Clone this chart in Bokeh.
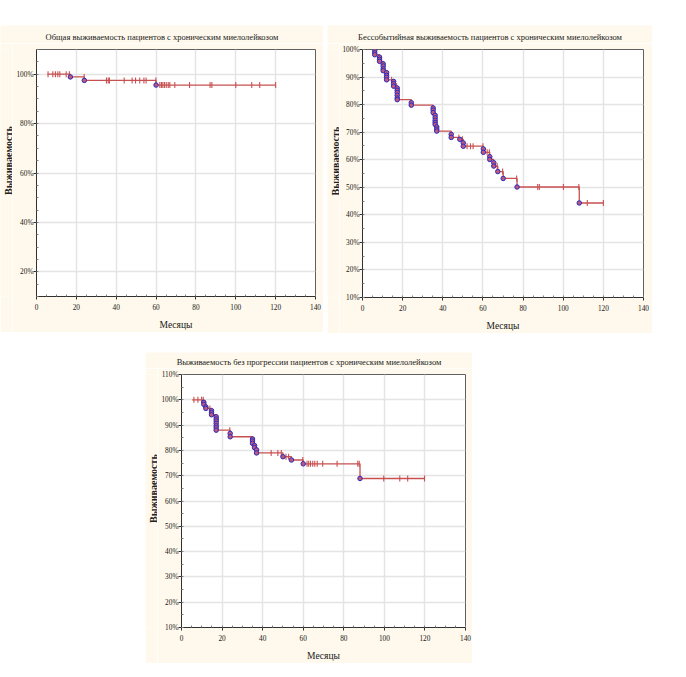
import numpy as np
from bokeh.plotting import figure
from bokeh.layouts import column, row
from bokeh.models import Range1d, FixedTicker, PrintfTickFormatter, Spacer
from bokeh.core.properties import value
from bokeh.embed import file_html
from bokeh.resources import INLINE

# ---------------- data ----------------
# Panel 1: overall survival
os_title = "Общая выживаемость пациентов с хроническим миелолейкозом"
os_start, os_end = 5.5, 120
os_event_t = [17, 24, 60]
os_event_s = [98.9, 97.5, 95.6]
os_cens_t = [5.8, 8.2, 9.5, 10.7, 11.7, 14.9, 16.5, 23.9, 35.1, 36.0, 36.6, 44, 48, 49.7,
             51.8, 53.9, 55, 59.9, 61.9, 62.7, 63.4, 64.2, 65.1, 66.1, 66.9, 69.4, 76.8,
             87.1, 88, 100, 108, 112, 120]
os_yticks = [20, 40, 60, 80, 100]

# Panel 2: event-free survival
efs_title = "Бессобытийная выживаемость пациентов с хроническим миелолейкозом"
efs_start, efs_end = 5.6, 120
efs_event_t = [6.1, 6.1, 6.1, 8.5, 8.5, 8.5, 10.3, 10.3, 10.3, 10.3, 12, 12, 12, 12,
               15.5, 15.5, 15.5, 17.3, 17.3, 17.3, 17.3, 17.3, 17.3, 24.3, 24.3,
               35.2, 35.2, 35.2, 36.2, 36.2, 36.2, 36.2, 36.2, 37, 37, 37, 44.2, 44.2,
               48.5, 50.2, 50.2, 60.2, 60.2, 63.4, 63.4, 65.4, 65.4, 67.4, 70.1, 77, 108]
efs_event_s = [99.6, 98.8, 98.1, 97.2, 96.4, 95.7, 94.8, 94.0, 93.0, 92.3, 91.6, 90.6, 89.9, 89.0,
               88.4, 87.6, 86.7, 86.0, 85.2, 84.4, 83.4, 82.4, 81.8, 80.7, 79.8,
               78.8, 78.0, 77.1, 76.1, 75.2, 74.3, 73.5, 72.8, 71.9, 71.1, 70.4, 69.2, 68.1,
               67.4, 66.1, 64.9, 63.9, 62.7, 61.1, 60.1, 58.9, 57.7, 55.7, 53.2, 50.1, 44.3]
efs_cens_t = [14.5, 17.0, 48.0, 49.8, 52.1, 53.8, 55.1, 60.0, 62.1, 63.2, 67.1, 69.8, 76.8,
              87.3, 88.1, 100.1, 107.8, 112, 120]
efs_yticks = [10, 20, 30, 40, 50, 60, 70, 80, 90, 100]

# Panel 3: progression-free survival
pfs_title = "Выживаемость без прогрессии пациентов с хроническим миелолейкозом"
pfs_start, pfs_end = 5.3, 120
pfs_event_t = [11, 11, 12, 12, 14.8, 14.8, 14.8, 17.1, 17.1, 17.1, 17.1, 17.1, 17.1, 17.1,
               24, 24, 35, 35, 35, 36, 36, 37, 37, 50, 54.2, 60, 88]
pfs_event_s = [99.0, 98.2, 97.2, 96.6, 95.7, 94.9, 94.1, 93.3, 92.4, 91.6, 90.7, 89.7, 88.9, 88.0,
               86.7, 85.4, 84.5, 83.7, 82.8, 81.9, 81.1, 80.2, 79.0, 77.5, 76.2, 74.7, 68.9]
pfs_cens_t = [6.1, 8.1, 9.9, 10.7, 14.0, 23.8, 44.2, 47.5, 49.2, 51.5, 52.8, 59.8,
              61.9, 62.7, 63.6, 64.7, 65.7, 66.9, 69.6, 76.7, 86.9, 87.6,
              99.7, 107.6, 111.5, 119.8]
pfs_yticks = [10, 20, 30, 40, 50, 60, 70, 80, 90, 100, 110]

x_ticks = [0, 20, 40, 60, 80, 100, 120, 140]
x_label = "Месяцы"
y_label = "Выживаемость"

# ---------------- style ----------------
BEIGE = "#FEF9EC"
LINE = "#C85050"
FONT = "Liberation Serif"
TEXT = "#202020"
LSTRIP = 12   # width of the strip that carries the vertical axis title
TOPPAD = 6    # top border of the plotting figure (room for the top tick label)


def step_path(start, end, ev_t, ev_s):
    xs, ys, cur = [start], [100.0], 100.0
    for t, s in zip(ev_t, ev_s):
        xs += [t, t]
        ys += [cur, s]
        cur = s
    xs.append(end)
    ys.append(cur)
    return xs, ys


def cens_levels(cens_t, ev_t, ev_s):
    idx = np.searchsorted(np.array(ev_t, dtype=float), np.array(cens_t, dtype=float), side="left")
    lv = np.concatenate([[100.0], np.array(ev_s, dtype=float)])
    return lv[idx]


def text_strip(w, h, x, y, txt, size, style="normal", angle=0.0):
    s = figure(width=w, height=h, output_backend="svg", toolbar_location=None,
               x_range=Range1d(0, w), y_range=Range1d(0, h), x_axis_type=None, y_axis_type=None,
               min_border=0)
    s.background_fill_color = BEIGE
    s.border_fill_color = BEIGE
    s.outline_line_color = None
    s.grid.visible = False
    s.text(x=[x], y=[y], text=[txt], angle=angle, text_align="center", text_baseline="middle",
           text_font=value(FONT), text_font_size=size, text_font_style=style, text_color=TEXT)
    return s


def make_panel(title, start, end, ev_t, ev_s, cens_t, yticks, yr, w, h, fl, fr, ft, fb, title_cy):
    T = ft - TOPPAD
    H = h - T
    ts = text_strip(w, T, w / 2, T - title_cy, title, "8.5px")
    frame_mid = fb + (H - TOPPAD - fb) / 2
    ys = text_strip(LSTRIP, H, 7.5, frame_mid, y_label, "10px", "bold", np.pi / 2)

    p = figure(width=w - LSTRIP, height=H, output_backend="svg", toolbar_location=None,
               x_range=Range1d(0, 140), y_range=Range1d(*yr),
               min_border_left=fl - LSTRIP, min_border_right=fr, min_border_top=TOPPAD,
               min_border_bottom=fb)
    p.background_fill_color = "white"
    p.border_fill_color = BEIGE
    p.outline_line_color = "#606060"
    p.outline_line_width = 1

    p.xaxis.ticker = FixedTicker(ticks=x_ticks, minor_ticks=list(range(0, 141, 5)))
    p.yaxis.ticker = FixedTicker(ticks=yticks, minor_ticks=list(range(10, 111, 5)))
    p.yaxis.formatter = PrintfTickFormatter(format="%d%%")
    for ax in (p.xaxis[0], p.yaxis[0]):
        ax.axis_line_color = "#303030"
        ax.major_tick_line_color = "#303030"
        ax.minor_tick_line_color = "#808080"
        ax.major_tick_out = 3
        ax.major_tick_in = 0
        ax.minor_tick_out = 0
        ax.minor_tick_in = 2
        ax.major_label_text_font = FONT
        ax.major_label_text_font_size = "7.3px"
        ax.major_label_text_color = TEXT
        ax.axis_label_text_font = FONT
        ax.axis_label_text_color = TEXT
    p.xaxis.major_label_standoff = 4
    p.yaxis.major_label_standoff = 0
    p.xaxis.axis_label = x_label
    p.xaxis.axis_label_standoff = 7
    p.xaxis.axis_label_text_font_size = "9.5px"
    p.xaxis.axis_label_text_font_style = "normal"

    p.grid.grid_line_color = "#E4E4E4"
    p.grid.grid_line_width = 1.5
    p.xgrid.ticker = FixedTicker(ticks=x_ticks)
    p.ygrid.ticker = FixedTicker(ticks=yticks)

    xs, ysv = step_path(start, end, ev_t, ev_s)
    p.line(xs, ysv, line_color=LINE, line_width=1.3)
    cy = cens_levels(cens_t, ev_t, ev_s)
    p.scatter(cens_t, cy, marker="dash", angle=np.pi / 2, size=6, line_color=LINE, line_width=1.1)
    p.scatter(ev_t, ev_s, marker="circle", size=4.5, line_color="#2B2BC0", fill_color="#C05878",
              line_width=1)
    return column(ts, row(ys, p))


p1 = make_panel(os_title, os_start, os_end, os_event_t, os_event_s, os_cens_t, os_yticks,
                (10, 110), 323, 307, 36, 8, 24, 35, 11.3)
p2 = make_panel(efs_title, efs_start, efs_end, efs_event_t, efs_event_s, efs_cens_t, efs_yticks,
                (10, 100), 325, 308, 35, 9, 24, 35, 11.3)
p3 = make_panel(pfs_title, pfs_start, pfs_end, pfs_event_t, pfs_event_s, pfs_cens_t, pfs_yticks,
                (10, 110), 327, 311, 36, 7, 22, 35, 9.7)

layout = column(
    Spacer(height=25),
    row(p1, Spacer(width=4), p2),
    Spacer(height=19),
    row(Spacer(width=145), p3),
)

open("out.html", "w").write(file_html(layout, INLINE))
